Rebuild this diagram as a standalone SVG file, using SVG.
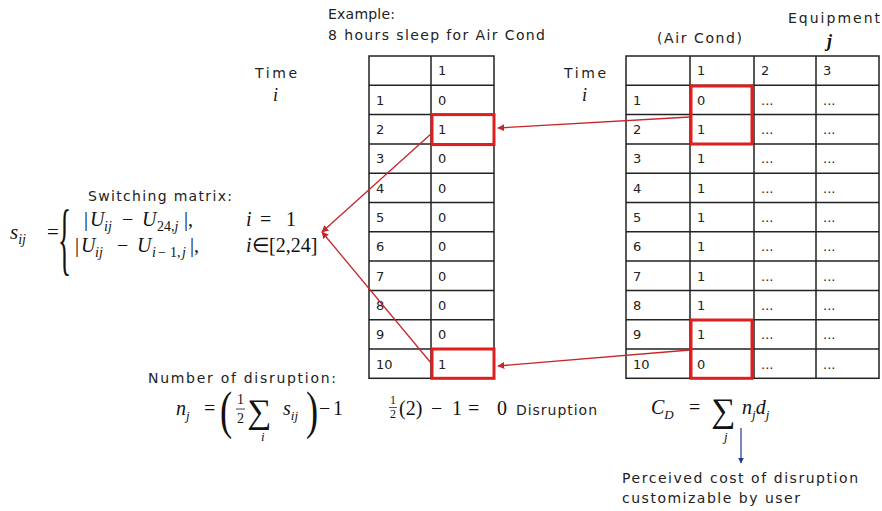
<svg xmlns="http://www.w3.org/2000/svg" width="882" height="511" viewBox="0 0 882 511">
<style>
.t{font-family:"DejaVu Sans",Verdana,sans-serif;font-size:14px;fill:#222}
.c{font-family:"DejaVu Sans",Verdana,sans-serif;font-size:13px;fill:#222}
.m{font-family:"Liberation Serif","Times New Roman",serif;fill:#111}
.i{font-style:italic}
.grid{fill:none;stroke:#222;stroke-width:1.5}
.hl{fill:none;stroke:#e01e1e;stroke-width:3}
.rl{fill:none;stroke:#c8252a;stroke-width:1.3}
</style>
<defs>
<marker id="ra" viewBox="0 0 10 10" refX="9" refY="5" markerWidth="7" markerHeight="7" orient="auto" markerUnits="userSpaceOnUse">
<path d="M0,0 L10,5 L0,10 z" fill="#c8252a"/>
</marker>
<marker id="ba" viewBox="0 0 10 10" refX="9" refY="5" markerWidth="6" markerHeight="6" orient="auto" markerUnits="userSpaceOnUse">
<path d="M0,0 L10,5 L0,10 z" fill="#23388f"/>
</marker>
</defs>
<rect width="882" height="511" fill="#fff"/>

<g id="example-label">
<text class="t" x="328" y="19" textLength="67" lengthAdjust="spacing">Example:</text>
<text class="t" x="328" y="40" textLength="217" lengthAdjust="spacing">8 hours sleep for Air Cond</text>
</g>

<g id="time-left">
<text class="t" x="255" y="78" textLength="42" lengthAdjust="spacing">Time</text>
<text class="m i" x="273" y="101" style="font-size:18px">i</text>
</g>

<g id="time-right">
<text class="t" x="564" y="78" textLength="42" lengthAdjust="spacing">Time</text>
<text class="m i" x="582" y="101" style="font-size:18px">i</text>
</g>

<g id="air-cond-label">
<text class="t" x="657" y="43" textLength="85" lengthAdjust="spacing">(Air Cond)</text>
</g>

<g id="equipment-label">
<text class="t" x="788" y="23" textLength="92" lengthAdjust="spacing">Equipment</text>
<text class="m i" x="827" y="47" font-weight="bold" style="font-size:18px">j</text>
</g>

<g id="example-table">
<rect class="grid" x="369" y="56" width="125" height="322.3"/>
<line class="grid" x1="431" y1="56" x2="431" y2="378.3"/>
<path class="grid" d="M369,85.3H494M369,114.6H494M369,143.9H494M369,173.2H494M369,202.5H494M369,231.8H494M369,261.1H494M369,290.4H494M369,319.7H494M369,349H494"/>
<text class="c" x="438" y="75">1</text>
<text class="c" x="376" y="105">1</text><text class="c" x="438" y="105">0</text>
<text class="c" x="376" y="134">2</text><text class="c" x="438" y="134">1</text>
<text class="c" x="376" y="163">3</text><text class="c" x="438" y="163">0</text>
<text class="c" x="376" y="193">4</text><text class="c" x="438" y="193">0</text>
<text class="c" x="376" y="222">5</text><text class="c" x="438" y="222">0</text>
<text class="c" x="376" y="251">6</text><text class="c" x="438" y="251">0</text>
<text class="c" x="376" y="281">7</text><text class="c" x="438" y="281">0</text>
<text class="c" x="376" y="310">8</text><text class="c" x="438" y="310">0</text>
<text class="c" x="376" y="339">9</text><text class="c" x="438" y="339">0</text>
<text class="c" x="376" y="369">10</text><text class="c" x="438" y="369">1</text>
<rect class="hl" x="432" y="114.6" width="62" height="30"/>
<rect class="hl" x="432" y="349" width="62" height="29.3"/>
</g>

<g id="equipment-table">
<rect class="grid" x="626" y="56" width="253" height="322.3"/>
<path class="grid" d="M690,56V378.3M754,56V378.3M816,56V378.3"/>
<path class="grid" d="M626,85.3H879M626,114.6H879M626,143.9H879M626,173.2H879M626,202.5H879M626,231.8H879M626,261.1H879M626,290.4H879M626,319.7H879M626,349H879"/>
<text class="c" x="697" y="75">1</text><text class="c" x="761" y="75">2</text><text class="c" x="823" y="75">3</text>
<g class="c">
<text x="633" y="105">1</text><text x="697" y="105">0</text><text x="761" y="105">...</text><text x="823" y="105">...</text>
<text x="633" y="134">2</text><text x="697" y="134">1</text><text x="761" y="134">...</text><text x="823" y="134">...</text>
<text x="633" y="163">3</text><text x="697" y="163">1</text><text x="761" y="163">...</text><text x="823" y="163">...</text>
<text x="633" y="193">4</text><text x="697" y="193">1</text><text x="761" y="193">...</text><text x="823" y="193">...</text>
<text x="633" y="222">5</text><text x="697" y="222">1</text><text x="761" y="222">...</text><text x="823" y="222">...</text>
<text x="633" y="251">6</text><text x="697" y="251">1</text><text x="761" y="251">...</text><text x="823" y="251">...</text>
<text x="633" y="281">7</text><text x="697" y="281">1</text><text x="761" y="281">...</text><text x="823" y="281">...</text>
<text x="633" y="310">8</text><text x="697" y="310">1</text><text x="761" y="310">...</text><text x="823" y="310">...</text>
<text x="633" y="339">9</text><text x="697" y="339">1</text><text x="761" y="339">...</text><text x="823" y="339">...</text>
<text x="633" y="369">10</text><text x="697" y="369">0</text><text x="761" y="369">...</text><text x="823" y="369">...</text>
</g>
<rect class="hl" x="691" y="86" width="61" height="58"/>
<rect class="hl" x="691" y="320" width="61" height="58.3"/>
</g>

<g id="switching-matrix">
<text class="t" x="88" y="201" textLength="144" lengthAdjust="spacing">Switching matrix:</text>
<text class="m i" x="10" y="239" style="font-size:21px">s<tspan dy="5" style="font-size:14px">ij</tspan></text>
<text class="m" x="47" y="239" style="font-size:21px">=</text>
<text class="m" transform="translate(58,265) scale(0.34,1)" style="font-size:80px">{</text>
<g class="m" style="font-size:20px">
<text y="226"><tspan x="84">|</tspan><tspan x="90" class="i">U</tspan><tspan x="104" dy="5" class="i" style="font-size:14px">ij</tspan><tspan x="122" dy="-5">−</tspan><tspan x="142" class="i">U</tspan><tspan x="157" dy="5" style="font-size:14px">24,<tspan class="i">j</tspan></tspan><tspan x="184" dy="-5">|,</tspan></text>
<text y="226"><tspan x="246" class="i">i</tspan><tspan x="260">=</tspan><tspan x="286">1</tspan></text>
<text y="252"><tspan x="75">|</tspan><tspan x="81" class="i">U</tspan><tspan x="95" dy="5" class="i" style="font-size:14px">ij</tspan><tspan x="117" dy="-5">−</tspan><tspan x="137" class="i">U</tspan><tspan x="152" dy="5" class="i" style="font-size:14px">i</tspan><tspan x="158" style="font-size:14px">−</tspan><tspan x="170" style="font-size:14px">1,</tspan><tspan x="182" class="i" style="font-size:14px">j</tspan><tspan x="190" dy="-5">|,</tspan></text>
<text y="252"><tspan x="246" class="i">i</tspan><tspan x="252">∈[2,24]</tspan></text>
</g>
</g>

<g id="number-of-disruption">
<text class="t" x="148" y="383" textLength="188" lengthAdjust="spacing">Number of disruption:</text>
<g class="m" style="font-size:20px">
<text x="176" y="415" class="i">n<tspan dy="5" style="font-size:13px">j</tspan></text>
<text x="204" y="415">=</text>
<text transform="translate(220,428) scale(0.7,1)" style="font-size:52px">(</text>
<text x="237" y="404" style="font-size:14px">1</text>
<line x1="236" y1="409" x2="245" y2="409" stroke="#111" stroke-width="0.8"/>
<text x="237" y="423" style="font-size:14px">2</text>
<text x="247" y="423" style="font-size:34px">∑</text>
<text x="261" y="441" class="i" style="font-size:13px">i</text>
<text x="283" y="415" class="i">s<tspan dy="5" style="font-size:13px">ij</tspan></text>
<text transform="translate(306,428) scale(0.7,1)" style="font-size:52px">)</text>
<text x="319" y="415">−<tspan x="333">1</tspan></text>
</g>
</g>

<g id="example-result">
<g class="m">
<text x="390" y="404" style="font-size:12px">1</text>
<line x1="389" y1="407.5" x2="397" y2="407.5" stroke="#111" stroke-width="0.7"/>
<text x="390" y="418" style="font-size:12px">2</text>
<text y="415" style="font-size:20px"><tspan x="399">(2)</tspan><tspan x="431">−</tspan><tspan x="452">1</tspan><tspan x="468">=</tspan><tspan x="497">0</tspan></text>
</g>
<text class="t" x="516" y="415" textLength="81" lengthAdjust="spacing">Disruption</text>
</g>

<g id="cost-formula">
<g class="m" style="font-size:20px">
<text x="651" y="414" class="i">C<tspan dy="5" style="font-size:13px">D</tspan></text>
<text x="689" y="414">=</text>
<text x="711" y="422" style="font-size:34px">∑</text>
<text x="724" y="441" class="i" style="font-size:13px">j</text>
<text x="742" y="414" class="i">n<tspan dy="5" style="font-size:13px">j</tspan><tspan dy="-5">d</tspan><tspan dy="5" style="font-size:13px">j</tspan></text>
</g>
</g>

<g id="perceived-cost">
<text class="t" x="622" y="483" textLength="236" lengthAdjust="spacing">Perceived cost of disruption</text>
<text class="t" x="622" y="503" textLength="178" lengthAdjust="spacing">customizable by user</text>
</g>

<g id="connectors">
<line class="rl" x1="690" y1="117" x2="498" y2="128" marker-end="url(#ra)"/>
<line class="rl" x1="690" y1="350" x2="498" y2="366" marker-end="url(#ra)"/>
<line class="rl" x1="432" y1="133" x2="322" y2="232" marker-end="url(#ra)"/>
<line class="rl" x1="431" y1="363" x2="322" y2="232" marker-end="url(#ra)"/>
<line x1="741" y1="428" x2="741" y2="463" stroke="#23388f" stroke-width="1.2" marker-end="url(#ba)"/>
</g>
</svg>
